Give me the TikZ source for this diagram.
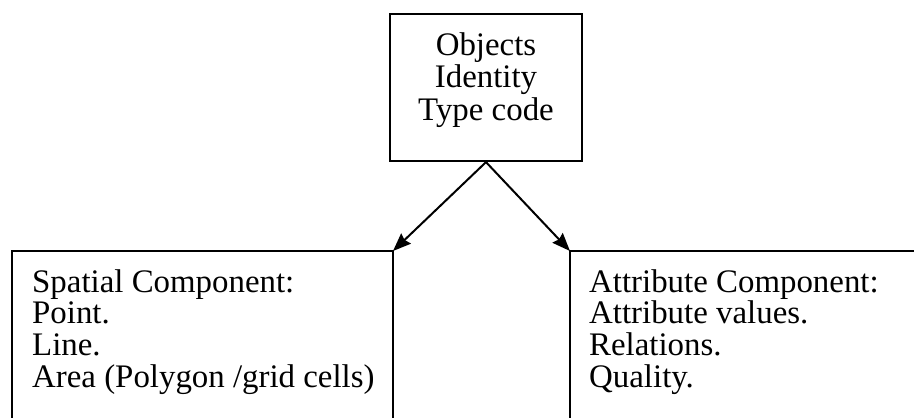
\documentclass[tikz,border=0pt]{standalone}
\usepackage{fontspec}
\setmainfont{Liberation Serif}
\usetikzlibrary{arrows.meta}
\begin{document}
\begin{tikzpicture}[x=1bp,y=-1bp,
  frame/.style={line width=2.2bp, line cap=rect},
  label/.style={font=\fontsize{33}{31.7}\selectfont, inner sep=0pt},
  link/.style={line width=2bp, -{Stealth[length=18bp,width=14bp,inset=2bp]}}]
  \useasboundingbox (0,0) rectangle (914,417);

  % object header box and its three lines
  \node[frame, draw, minimum width=192bp, minimum height=147bp, inner sep=0pt]
        (obj) at (486,87.5) {};
  \node[inner sep=0pt, anchor=base, align=center,
        font=\fontsize{33}{32.5}\selectfont] (objtext) at (486,120)
        {Objects\\Identity\\Type code};

  % corners where the two component frames are reached
  \coordinate (spcorner) at (393,251);
  \coordinate (atcorner) at (570,251);

  % spatial component frame (open at the bottom)
  \draw[frame] (12,417) -- (12,251) -- (spcorner) -- (393,417);
  % attribute component frame (runs off to the right and bottom)
  \draw[frame] (570,417) -- (atcorner) -- (914,251);

  \node[label, anchor=base west, align=left] (spatial) at (32,387)
    {Spatial Component:\\Point.\\Line.\\Area (Polygon /grid cells)};
  \node[label, anchor=base west, align=left] (attribute) at (589,387)
    {Attribute Component:\\Attribute values.\\Relations.\\Quality.};

  \draw[link] (obj.south) -- (spcorner);
  \draw[link] (obj.south) -- (atcorner);
\end{tikzpicture}
\end{document}
